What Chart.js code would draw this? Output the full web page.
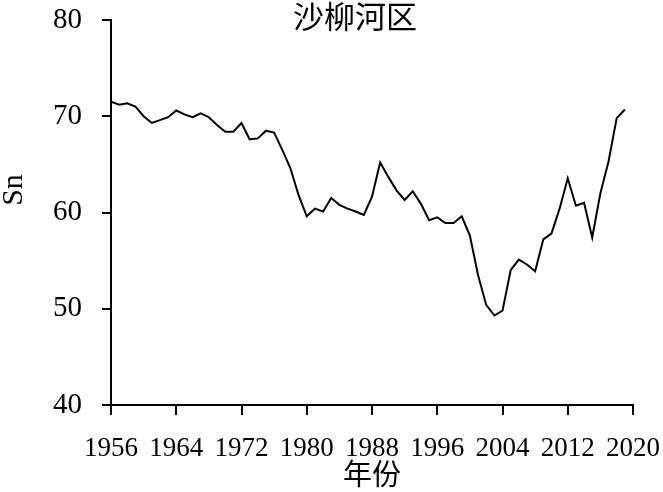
<!DOCTYPE html>
<html lang="zh">
<head>
    <meta charset="UTF-8">
    <title>沙柳河区 Sn</title>
    <script src="https://cdn.jsdelivr.net/npm/chart.js"></script>
    <style>
        body { margin: 0; background: #fff; }
        canvas { display: block; }
    </style>
</head>
<body>
    <canvas id="snChart" width="663" height="492"></canvas>

    <script>
        const years = [1956, 1957, 1958, 1959, 1960, 1961, 1962, 1963, 1964, 1965, 1966, 1967, 1968, 1969, 1970, 1971,
            1972, 1973, 1974, 1975, 1976, 1977, 1978, 1979, 1980, 1981, 1982, 1983, 1984, 1985, 1986, 1987,
            1988, 1989, 1990, 1991, 1992, 1993, 1994, 1995, 1996, 1997, 1998, 1999, 2000, 2001, 2002, 2003,
            2004, 2005, 2006, 2007, 2008, 2009, 2010, 2011, 2012, 2013, 2014, 2015, 2016, 2017, 2018, 2019];
        const sn = [71.5, 71.2, 71.35, 71.0, 70.0, 69.3, 69.6, 69.9, 70.6, 70.2, 69.9, 70.3, 69.9, 69.1, 68.4, 68.4,
            69.3, 67.6, 67.7, 68.5, 68.3, 66.5, 64.6, 61.8, 59.6, 60.4, 60.1, 61.5, 60.8, 60.4, 60.1, 59.75,
            61.65, 65.2, 63.7, 62.3, 61.3, 62.2, 60.9, 59.2, 59.5, 58.9, 58.9, 59.6, 57.6, 53.5, 50.4, 49.3,
            49.8, 54.0, 55.1, 54.6, 53.9, 57.2, 57.8, 60.4, 63.55, 60.7, 61.0, 57.4, 62.0, 65.3, 69.8, 70.7];

        const titleText = '沙柳河区';
        const xTitle = '年份';
        const yTitle = 'Sn';

        const serif = '"Liberation Serif", "Times New Roman", serif';
        const cjk = '"Noto Sans CJK SC", sans-serif';

        // titles drawn by hand so they sit where the original has them
        const textPlugin = {
            id: 'texts',
            afterDraw(chart) {
                const c = chart.ctx;
                const area = chart.chartArea;
                c.save();
                c.fillStyle = '#000';
                c.textAlign = 'center';
                c.textBaseline = 'middle';
                c.font = '400 31px ' + cjk;
                c.fillText(titleText, 355, 16);
                c.font = '400 29px ' + cjk;
                c.fillText(xTitle, (area.left + area.right) / 2, 474);
                c.translate(14, 190);
                c.rotate(-Math.PI / 2);
                c.font = '30px ' + serif;
                c.fillText(yTitle, 0, 0);
                c.restore();
            }
        };

        // drop the label overflow so the plot box lands on fixed edges
        function noOverflow(s) {
            s.paddingTop = 0;
            s.paddingBottom = 0;
            s.paddingLeft = 0;
            s.paddingRight = 0;
        }

        const ctx = document.getElementById('snChart').getContext('2d');

        new Chart(ctx, {
            type: 'line',
            data: {
                datasets: [{
                    data: years.map((y, i) => ({ x: y, y: sn[i] })),
                    borderColor: '#000',
                    borderWidth: 2,
                    pointRadius: 0,
                    tension: 0,
                    fill: false
                }]
            },
            options: {
                responsive: false,
                animation: false,
                layout: { padding: { top: 20, right: 30, left: 0, bottom: 0 } },
                plugins: {
                    legend: { display: false },
                    tooltip: { enabled: false }
                },
                scales: {
                    x: {
                        type: 'linear',
                        min: 1956,
                        max: 2020,
                        afterFit: s => { s.height = 87; noOverflow(s); },
                        ticks: {
                            stepSize: 8,
                            color: '#000',
                            padding: 18,
                            maxRotation: 0,
                            autoSkip: false,
                            font: { family: serif, size: 27 },
                            callback: v => String(v)
                        },
                        grid: { drawOnChartArea: false, drawTicks: true, tickLength: 10, color: '#000', lineWidth: 2 },
                        border: { display: true, color: '#000', width: 2 }
                    },
                    y: {
                        min: 40,
                        max: 80,
                        afterFit: s => { s.width = 111; noOverflow(s); },
                        ticks: {
                            stepSize: 10,
                            color: '#000',
                            padding: 20,
                            font: { family: serif, size: 29 }
                        },
                        grid: { drawOnChartArea: false, drawTicks: true, tickLength: 9, color: '#000', lineWidth: 2 },
                        border: { display: true, color: '#000', width: 2 }
                    }
                }
            },
            plugins: [textPlugin]
        });
    </script>
</body>
</html>
